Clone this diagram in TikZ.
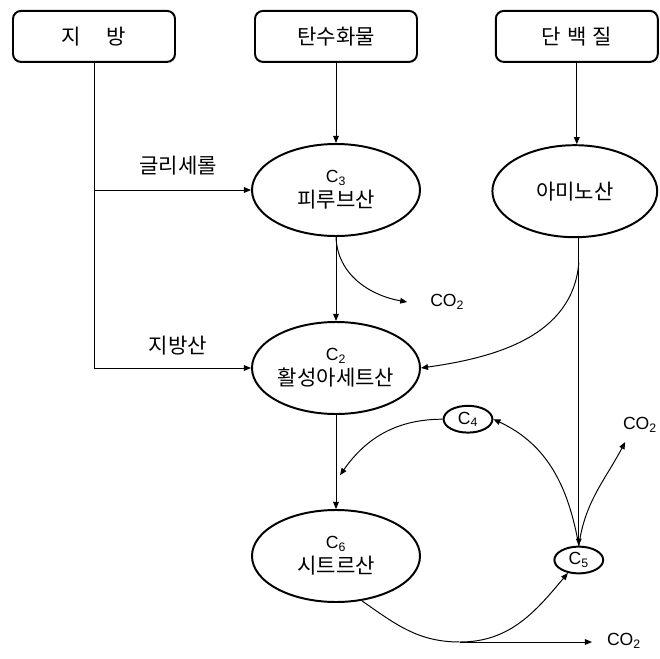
\documentclass[tikz,border=0pt]{standalone}
\usepackage{fontspec}
\setmainfont{Liberation Sans}
\newfontfamily\kr{Noto Sans CJK KR}
\usepackage{tikz}
\usetikzlibrary{shapes.geometric, arrows.meta}
\newcommand{\cnum}[1]{{\fontsize{12.5}{15}\selectfont C\textsubscript{#1}}}

\begin{document}
\begin{tikzpicture}[
    sourcebox/.style={draw, line width=1.4pt, rounded corners=0.2cm, minimum width=4.05cm, minimum height=1.275cm, font=\kr\fontsize{15}{18}\selectfont},
    acid/.style={draw, ellipse, line width=1.4pt, inner sep=0pt, minimum width=4.2cm, minimum height=2.3cm, align=center, font=\fontsize{15}{18}\selectfont},
    carbon/.style={draw, ellipse, line width=1.4pt, inner sep=0pt, minimum width=1.22cm, minimum height=0.67cm, font=\fontsize{12.5}{15}\selectfont},
    gas/.style={font=\fontsize{12.5}{15}\selectfont},
    flow/.style={line width=0.7pt, -{Triangle[length=5pt,width=4pt]}}]

    \useasboundingbox (0,0) rectangle (16.5,-16.475);

    % Sources
    \node[sourcebox] (fat) at (2.35,-0.91) {지\hspace{1.2em}방};
    \node[sourcebox] (carb) at (8.4,-0.91) {탄수화물};
    \node[sourcebox] (prot) at (14.42,-0.91) {단\hspace{0.3em}백\hspace{0.3em}질};

    % Acids
    \node[acid] (pyr) at (8.4,-4.75) {\cnum{3}\\{\kr 피루브산}};
    \node[acid, minimum width=4.12cm] (amino) at (14.37,-4.78) {\kr 아미노산};
    \node[acid] (acetyl) at (8.4,-9.2) {\cnum{2}\\{\kr 활성아세트산}};
    \node[acid] (citrate) at (8.4,-13.9) {\cnum{6}\\{\kr 시트르산}};

    % Cycle
    \node[carbon] (c4) at (11.7,-10.48) {C\textsubscript{4}};
    \node[carbon] (c5) at (14.47,-14.0) {C\textsubscript{5}};

    % Carbon dioxide
    \node[gas] (co2a) at (11.18,-7.55) {CO\textsubscript{2}};
    \node[gas] (co2b) at (16.0,-10.63) {CO\textsubscript{2}};
    \node[gas] (co2c) at (15.6,-16.03) {CO\textsubscript{2}};
    \coordinate (co2atip) at (10.18,-7.55);
    \coordinate (co2btip) at (15.63,-11.05);
    \coordinate (co2ctip) at (14.8,-16.05);

    % Helper points
    \coordinate (branch) at (14.47,-6.58);
    \coordinate (c4tip) at (8.5,-11.88);
    \coordinate (jc) at (11.5,-16.05);

    % Fat pathway
    \node[font=\kr\fontsize{15}{18}\selectfont] (glylabel) at (4.45,-4.13) {글리세롤};
    \node[font=\kr\fontsize{15}{18}\selectfont] (falabel) at (4.45,-8.65) {지방산};
    \draw[flow] (fat.south) |- (acetyl.west);
    \draw[flow] (fat.south |- pyr.west) -- (pyr.west);

    % Main chain
    \draw[flow] (carb.south) -- (pyr.north);
    \draw[flow] (prot.south) -- (prot.south |- amino.north);
    \draw[flow] (pyr.south) -- (acetyl.north);
    \draw[flow] (acetyl.south) -- (citrate.north);
    \draw[flow] (pyr.south) to[out=-88, in=170] (co2atip);

    % Amino acid pathway
    \draw[flow] (c5.north |- amino.south) -- (c5.north);
    \draw[flow] (branch) to[out=-95, in=8] (acetyl.east);

    % Cycle arcs
    \draw[flow] (c5.north) to[out=100, in=-25] (c4.east);
    \draw[flow] (c5.north) to[out=82, in=-118] (co2btip);
    \draw[flow] (c4.west) to[out=180, in=55] (c4tip);
    \draw[flow] (citrate.-60) to[out=-35, in=180] (jc) to[out=0, in=-130] (c5.-130);
    \draw[flow] (jc) -- (co2ctip);

\end{tikzpicture}
\end{document}
